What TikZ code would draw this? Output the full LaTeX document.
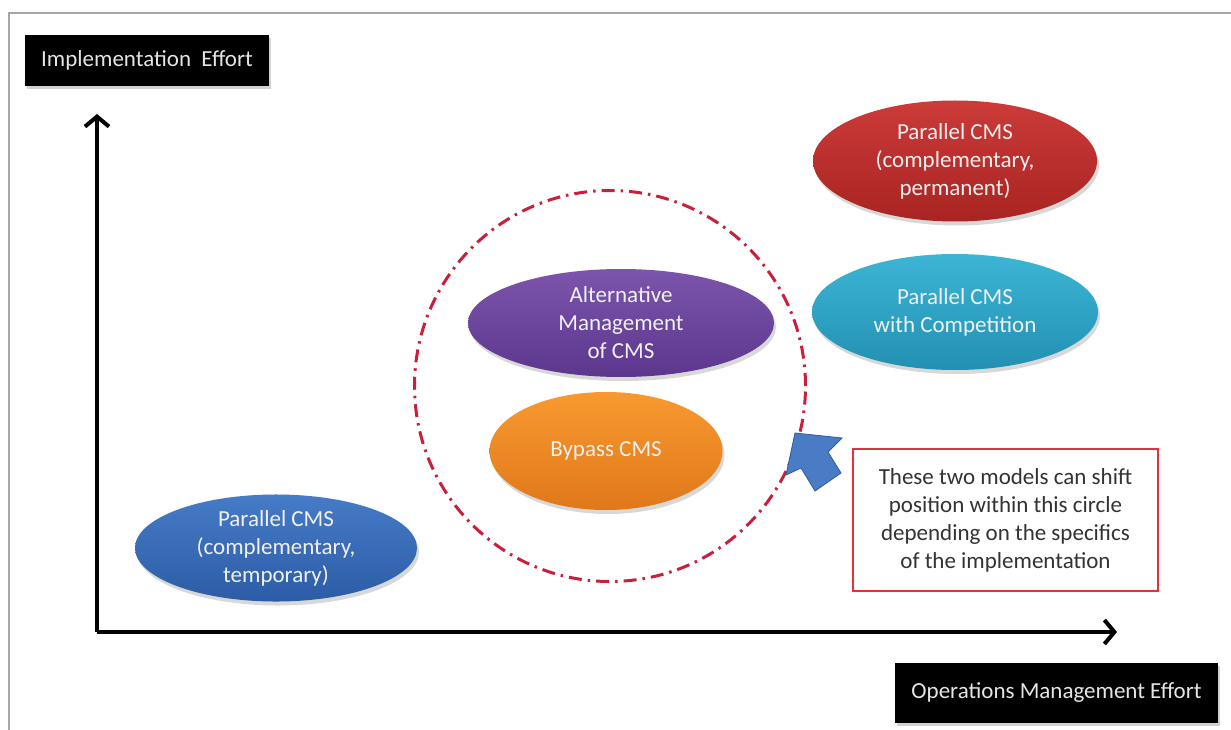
\documentclass[tikz,border=0pt]{standalone}
\usepackage{fontspec}
\setmainfont{Carlito}
\usetikzlibrary{arrows.meta,shapes.geometric,shadows}
\definecolor{framegray}{HTML}{A6A6A6}
\definecolor{redA}{HTML}{CB3B39}\definecolor{redB}{HTML}{A82422}
\definecolor{cyanA}{HTML}{3DB5D5}\definecolor{cyanB}{HTML}{2290B2}
\definecolor{purA}{HTML}{7C54AC}\definecolor{purB}{HTML}{5C378D}
\definecolor{orA}{HTML}{F8992F}\definecolor{orB}{HTML}{E0781A}
\definecolor{bluA}{HTML}{467BC7}\definecolor{bluB}{HTML}{2C5CA6}
\definecolor{ringred}{HTML}{C8203A}
\definecolor{notered}{HTML}{E0323C}
\definecolor{notetext}{HTML}{333333}
\definecolor{arrowfill}{HTML}{4A7CC6}
\definecolor{arrowline}{HTML}{2F5A9E}
\begin{document}
\begin{tikzpicture}[x=1pt,y=-1pt,
  every node/.style={font=\fontsize{23}{28}\selectfont},
  model/.style={ellipse, inner sep=0pt, align=center, text=white!94!black,
    drop shadow={shadow xshift=2pt, shadow yshift=-4pt, opacity=0.3}},
  axislabel/.style={rectangle, fill=black, text=white!90!black, inner sep=0pt,
    drop shadow={shadow xshift=2pt, shadow yshift=-3pt, opacity=0.35}},
  axis/.style={line width=4pt, -{Straight Barb[length=10pt,width=24pt]}},
]
\useasboundingbox (0,0) rectangle (1231,730);
\fill[white] (0,0) rectangle (1231,730);
% slide frame
\draw[framegray, line width=2pt] (9,735) -- (9,13) -- (1240,13);

% axes
\coordinate (origin) at (97,632);
\coordinate (ytip) at (97,114);
\coordinate (xtip) at (1117,632);
\draw[axis] (origin) -- (ytip);
\draw[axis] (origin) -- (xtip);

% axis labels
\node[axislabel, minimum width=244pt, minimum height=51pt] (ylabel) at (147,60.5) {Implementation\ \ Effort};
\node[axislabel, minimum width=323pt, minimum height=60pt] (xlabel) at (1056.5,693) {Operations Management Effort};

% region in which two models may move
\node[draw=ringred, line width=3pt, circle, minimum size=391pt, inner sep=0pt,
  dash pattern=on 13pt off 6pt on 2.5pt off 6pt] (zone) at (610,386) {};

% models
\node[model, minimum width=284pt, minimum height=121pt, top color=redA, bottom color=redB] (pcp) at (955,161)
  {Parallel CMS\\(complementary,\\permanent)};
\node[model, minimum width=286pt, minimum height=116pt, top color=cyanA, bottom color=cyanB] (pcc) at (955,312)
  {Parallel CMS\\with Competition};
\node[model, minimum width=306pt, minimum height=108pt, top color=purA, bottom color=purB] (amc) at (621,323)
  {Alternative\\Management\\of CMS};
\node[model, minimum width=233pt, minimum height=118pt, top color=orA, bottom color=orB] (byp) at (606,451)
  {Bypass CMS};
\node[model, minimum width=282pt, minimum height=106pt, top color=bluA, bottom color=bluB] (pct) at (276,548)
  {Parallel CMS\\(complementary,\\temporary)};

% note and its pointer towards the circle
\node[draw=notered, line width=2pt, fill=white, minimum width=305pt, minimum height=142pt,
  inner sep=0pt, align=center, text=notetext] (note) at (1005.5,520)
  {These two models can shift\\position within this circle\\depending on the specifics\\of the implementation};
\fill[arrowfill, draw=arrowline, line width=0.8pt, line join=miter]
  (795,433) -- (842,438) -- (828,452) -- (841,473) -- (815,491) -- (801,468) -- (786,475) -- cycle;
\end{tikzpicture}
\end{document}
